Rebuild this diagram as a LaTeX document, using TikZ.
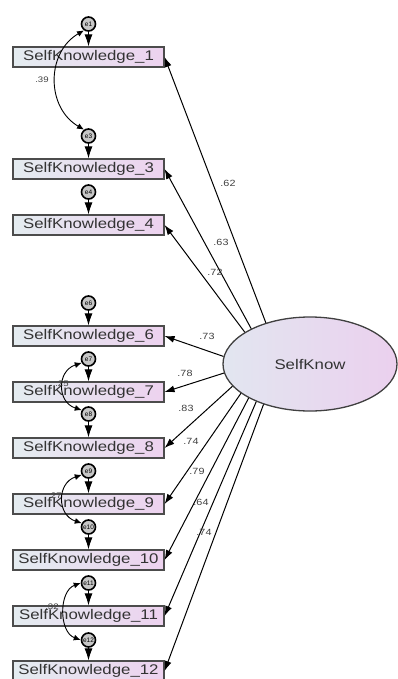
\documentclass[tikz,border=0pt]{standalone}
\usepackage{fontspec}
\setmainfont{Liberation Sans}
\usepackage{graphicx}
\usetikzlibrary{arrows.meta,shapes.geometric}
\definecolor{boxl}{HTML}{E4ECF0}
\definecolor{boxr}{HTML}{EDD2EF}
\definecolor{ell}{HTML}{E2E6F0}
\definecolor{elr}{HTML}{EBD0EE}
\newcommand{\sx}[1]{\scalebox{1.2}[1]{#1}}
\begin{document}
\begin{tikzpicture}[x=1pt,y=-1pt,
  obs/.style={draw=black!70, line width=1.1pt, left color=boxl, right color=boxr,
    minimum width=151pt, minimum height=20pt, inner sep=0pt, text=black!80,
    font=\fontsize{14}{14}\selectfont},
  lat/.style={ellipse, draw=black!75, line width=1.3pt, left color=ell, right color=elr,
    minimum width=174pt, minimum height=94pt, inner sep=0pt, text=black!80,
    font=\fontsize{14}{14}\selectfont},
  err/.style={circle, draw=black, line width=1.6pt, fill=black!22, minimum size=14pt,
    inner sep=0pt, text=black, font=\fontsize{6.5}{6.5}\selectfont},
  load/.style={-{Latex[length=10pt,width=7pt]}, line width=1pt},
  eload/.style={-{Latex[length=12pt,width=8pt]}, line width=1pt},
  cov/.style={{Latex[length=7pt,width=6pt]}-{Latex[length=7pt,width=6pt]}, line width=0.9pt},
  lab/.style={font=\fontsize{9}{9}\selectfont, text=black!75, inner sep=0pt},
  clab/.style={font=\fontsize{8}{8}\selectfont, text=black!75, inner sep=0pt},
]
\useasboundingbox (0,0) rectangle (398,679);

% observed variables
\node[obs] (sk1)  at (88.5,57)  {\sx{SelfKnowledge\_1}};
\node[obs] (sk3)  at (88.5,169) {\sx{SelfKnowledge\_3}};
\node[obs] (sk4)  at (88.5,225) {\sx{SelfKnowledge\_4}};
\node[obs] (sk6)  at (88.5,336) {\sx{SelfKnowledge\_6}};
\node[obs] (sk7)  at (88.5,392) {\sx{SelfKnowledge\_7}};
\node[obs] (sk8)  at (88.5,448) {\sx{SelfKnowledge\_8}};
\node[obs] (sk9)  at (88.5,504) {\sx{SelfKnowledge\_9}};
\node[obs] (sk10) at (88.5,560) {\sx{SelfKnowledge\_10}};
\node[obs] (sk11) at (88.5,616) {\sx{SelfKnowledge\_11}};
\node[obs] (sk12) at (88.5,671) {\sx{SelfKnowledge\_12}};

% latent variable
\node[lat] (sk) at (310,364) {\sx{SelfKnow}};

% loadings
\draw[load] (sk.137)   -- (sk1.east);
\draw[load] (sk.149.6) -- (sk3.east);
\draw[load] (sk.154.5) -- (sk4.east);
\draw[load] (sk.175)   -- (sk6.east);
\draw[load] (sk.186)   -- (sk7.east);
\draw[load] (sk.196)   -- (sk8.east);
\draw[load] (sk.203.9) -- (sk9.east);
\draw[load] (sk.209.5) -- (sk10.east);
\draw[load] (sk.215.6) -- (sk11.east);
\draw[load] (sk.221.8) -- (sk12.east);

% error terms
\node[err] (e1)  at (88.5,24)  {e1};
\node[err] (e3)  at (88.5,136) {e3};
\node[err] (e4)  at (88.5,192) {e4};
\node[err] (e6)  at (88.5,303) {e6};
\node[err] (e7)  at (88.5,359) {e7};
\node[err] (e8)  at (88.5,414) {e8};
\node[err] (e9)  at (88.5,471) {e9};
\node[err] (e10) at (88.5,527) {e10};
\node[err] (e11) at (88.5,583) {e11};
\node[err] (e12) at (88.5,640) {e12};
\foreach \e/\b in {e1/sk1,e3/sk3,e4/sk4,e6/sk6,e7/sk7,e8/sk8,e9/sk9,e10/sk10,e11/sk11,e12/sk12}
  \draw[eload] (\e.south) -- (\b.north);

% covariances
\draw[cov] (e1.235) .. controls +(-38,22) and +(-38,-22) .. (e3.125);
\draw[cov] (e7.210) .. controls +(-25,8) and +(-25,-8) .. (e8.150);
\draw[cov] (e9.210) .. controls +(-25,8) and +(-25,-8) .. (e10.150);
\draw[cov] (e11.west) .. controls +(-22,8) and +(-22,-8) .. (e12.west);

% labels
\node[clab] (c13)   at (42,80)  {\sx{.39}};
\node[clab] (c78)   at (62,384) {\sx{.25}};
\node[clab] (c910)  at (55,496) {\sx{.27}};
\node[clab] (c1112) at (52,607) {\sx{.32}};

\node[lab] (l1)  at (228,183) {\sx{.62}};
\node[lab] (l3)  at (221,242) {\sx{.63}};
\node[lab] (l4)  at (215,272) {\sx{.72}};
\node[lab] (l6)  at (207,336) {\sx{.73}};
\node[lab] (l7)  at (185,373) {\sx{.78}};
\node[lab] (l8)  at (186,408) {\sx{.83}};
\node[lab] (l9)  at (191,441) {\sx{.74}};
\node[lab] (l10) at (197,471) {\sx{.79}};
\node[lab] (l11) at (201,502) {\sx{.64}};
\node[lab] (l12) at (204,532) {\sx{.74}};
\end{tikzpicture}
\end{document}
